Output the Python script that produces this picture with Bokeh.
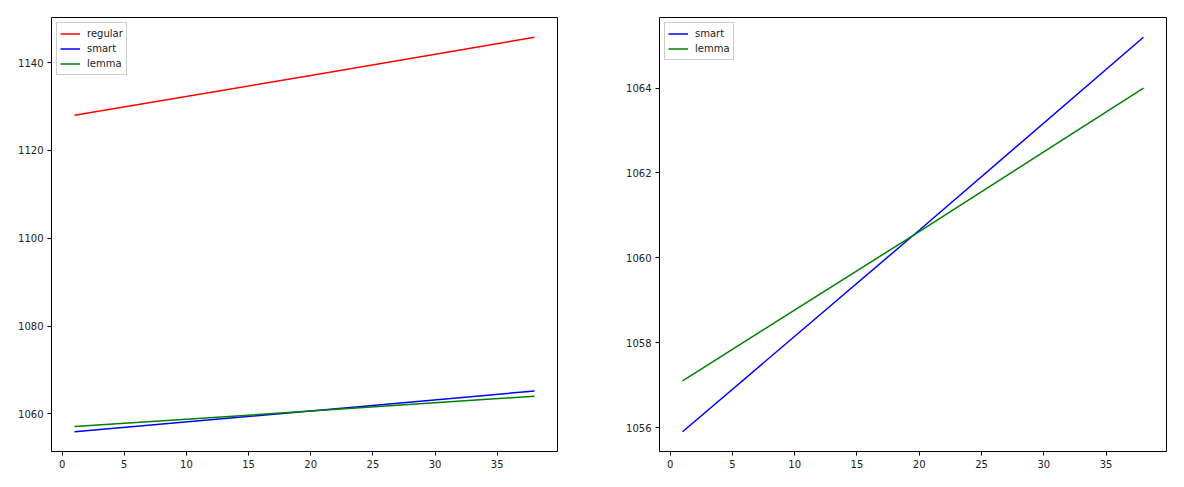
from bokeh.plotting import figure
from bokeh.layouts import row
from bokeh.models import Range1d, SingleIntervalTicker, Legend, LegendItem
from bokeh.embed import file_html
from bokeh.resources import INLINE

# data
x = [1, 20, 38]
regular = [1128.0, 1137.1, 1145.8]
smart = [1055.9, 1060.65, 1065.2]
lemma = [1057.1, 1060.62, 1064.0]

left_ticks_interval = 20
right_ticks_interval = 2
x_ticks_interval = 5

FONT = "DejaVu Sans"


def padded(lo, hi, frac=0.05):
    d = (hi - lo) * frac
    return lo - d, hi + d


def make_fig(width, left, right, series, yint):
    p = figure(width=width, height=487, output_backend="svg", toolbar_location=None,
               min_border_left=left, min_border_right=right, min_border_top=17,
               min_border_bottom=36)
    xs = padded(min(x), max(x))
    ally = [v for s in series for v in s[1]]
    ys = padded(min(ally), max(ally))
    p.x_range = Range1d(*xs)
    p.y_range = Range1d(*ys)
    items = []
    for name, vals, col in series:
        r = p.line(x, vals, line_color=col, line_width=1.5)
        items.append(LegendItem(label=name, renderers=[r]))
    leg = Legend(items=items, location="top_left", margin=5, padding=3, spacing=0,
                 label_text_font=FONT, label_text_font_size="10px",
                 label_text_color="#222222",
                 label_height=15, glyph_height=15, glyph_width=20,
                 label_standoff=7, border_line_color="#cccccc",
                 border_line_alpha=1.0, background_fill_alpha=0.8)
    p.add_layout(leg)
    p.xgrid.visible = False
    p.ygrid.visible = False
    p.outline_line_color = "black"
    p.outline_line_width = 1
    p.xaxis.ticker = SingleIntervalTicker(interval=x_ticks_interval)
    p.yaxis.ticker = SingleIntervalTicker(interval=yint)
    for ax in (p.xaxis[0], p.yaxis[0]):
        ax.axis_line_color = None
        ax.major_tick_out = 4
        ax.major_tick_in = 0
        ax.minor_tick_out = 0
        ax.minor_tick_in = 0
        ax.major_tick_line_color = "black"
        ax.major_label_text_font = FONT
        ax.major_label_text_font_size = "10px"
        ax.major_label_text_color = "#222222"
        ax.major_label_standoff = 4
    p.background_fill_color = "white"
    p.border_fill_color = "white"
    return p


p1 = make_fig(608, 51, 51, [("regular", regular, "red"), ("smart", smart, "blue"), ("lemma", lemma, "green")],
              left_ticks_interval)
p2 = make_fig(576, 51, 18, [("smart", smart, "blue"), ("lemma", lemma, "green")], right_ticks_interval)

layout = row(p1, p2)
open("out.html", "w").write(file_html(layout, INLINE))
